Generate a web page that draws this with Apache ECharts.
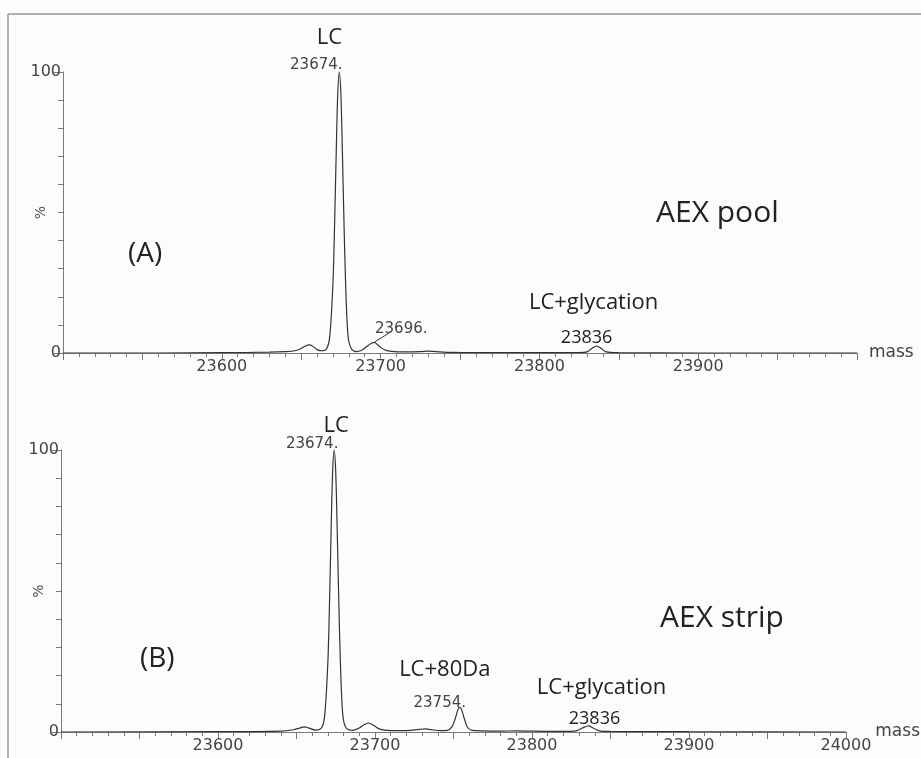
<!DOCTYPE html>
<html>
<head>
<meta charset="utf-8">
<title>AEX pool / AEX strip</title>
<script src="https://cdn.jsdelivr.net/npm/echarts@6/dist/echarts.min.js"></script>
<style>
  html, body { margin: 0; padding: 0; background: #fcfcfc; }
  #myChart { width: 921px; height: 758px; }
</style>
</head>
<body>
<div id="myChart"></div>
<script>
// spectrum (A) AEX pool : [mass, %]
var poolData = [
  [23500, 0], [23560, 0], [23600, 0.1], [23630, 0.3], [23640, 0.5], [23646, 0.8],
  [23650, 1.6], [23653, 2.6], [23655, 2.9], [23657, 2.5], [23660, 1.2], [23663, 0.8],
  [23666, 1.5], [23668, 6], [23670, 25], [23671, 45], [23672, 70], [23673, 92],
  [23674, 100], [23675, 92], [23676, 70], [23677, 45], [23678, 24], [23679, 10],
  [23680, 4], [23682, 1.2], [23685, 0.5], [23688, 1.0], [23691, 2.2], [23694, 3.4],
  [23696, 3.8], [23698, 3.0], [23700, 2.0], [23703, 1.0], [23707, 0.6], [23715, 0.4],
  [23725, 0.5], [23730, 0.7], [23735, 0.5], [23745, 0.2], [23760, 0.1], [23800, 0.1],
  [23825, 0.1], [23830, 0.4], [23833, 1.6], [23836, 2.5], [23839, 1.6], [23842, 0.4],
  [23850, 0.1], [23900, 0], [24000, 0]
];

// spectrum (B) AEX strip : [mass, %]
var stripData = [
  [23500, 0], [23600, 0.1], [23640, 0.3], [23648, 0.8], [23652, 1.4], [23655, 1.8],
  [23658, 1.4], [23662, 0.7], [23666, 1.5], [23668, 6], [23670, 25], [23671, 45],
  [23672, 70], [23673, 92], [23674, 100], [23675, 92], [23676, 70], [23677, 45],
  [23678, 24], [23679, 10], [23680, 4], [23682, 1.2], [23686, 0.6], [23690, 1.4],
  [23693, 2.6], [23696, 3.2], [23699, 2.4], [23703, 1.0], [23710, 0.5], [23720, 0.5],
  [23728, 0.9], [23732, 1.1], [23736, 0.8], [23742, 0.5], [23746, 0.6], [23749, 1.8],
  [23751, 4.5], [23753, 8.2], [23754, 8.7], [23755, 8.2], [23757, 4.5], [23759, 1.6],
  [23762, 0.6], [23768, 0.4], [23780, 0.3], [23790, 0.4], [23800, 0.3], [23820, 0.2],
  [23828, 0.4], [23832, 1.4], [23836, 2.2], [23839, 1.4], [23843, 0.4], [23850, 0.2],
  [23900, 0.1], [24000, 0]
];

var massMin = 23500;
var massMax = 24000;
var yTicks = [0, 100];

var tickFont = 'DejaVu Sans';
var textFont = 'Open Sans';
var lineColor = '#333';
var axisColor = '#7a7a7a';

var myChart = echarts.init(document.getElementById('myChart'));

function xAxisOf(idx, showLast) {
  return {
    type: 'value',
    gridIndex: idx,
    min: massMin,
    max: massMax,
    interval: 50,
    name: 'mass',
    nameLocation: 'end',
    nameGap: 12,
    nameTextStyle: { fontFamily: tickFont, fontSize: 17, color: '#444', verticalAlign: 'middle' },
    axisLine: { lineStyle: { color: axisColor, width: 1 } },
    axisTick: { length: 7, lineStyle: { color: axisColor } },
    minorTick: { show: true, splitNumber: 5, length: 4, lineStyle: { color: axisColor } },
    splitLine: { show: false },
    axisLabel: {
      fontFamily: tickFont, fontSize: 16, color: '#444', margin: 6,
      showMinLabel: true, showMaxLabel: true,
      formatter: function (v) {
        if (v % 100 !== 0 || v === massMin) return '';
        if (v === massMax && !showLast) return '';
        return String(v);
      }
    }
  };
}

function yAxisOf(idx) {
  return {
    type: 'value',
    gridIndex: idx,
    min: 0,
    max: 100,
    interval: 100,
    name: '%',
    nameLocation: 'middle',
    nameRotate: 90,
    nameGap: 15,
    nameMoveOverlap: false,
    nameTextStyle: { fontFamily: tickFont, fontSize: 14, color: '#555' },
    axisLine: { show: true, lineStyle: { color: axisColor, width: 1 } },
    axisTick: { show: true, length: 9, lineStyle: { color: axisColor } },
    minorTick: { show: true, splitNumber: 10, length: 5, lineStyle: { color: axisColor } },
    splitLine: { show: false },
    axisLabel: {
      fontFamily: tickFont, fontSize: 16, color: '#444', margin: 2,
      formatter: function (v) { return yTicks.indexOf(v) >= 0 ? String(v) : ''; }
    }
  };
}

function peakLabel(coord, text, offset, big) {
  return {
    coord: coord,
    symbol: 'circle',
    symbolSize: 0,
    label: {
      show: true,
      position: 'inside',
      offset: offset,
      formatter: text,
      fontFamily: big ? textFont : tickFont,
      fontSize: big ? big : 15,
      color: big ? '#222' : '#444'
    }
  };
}

var option = {
  backgroundColor: '#fcfcfc',
  animation: false,
  grid: [
    { left: 63, right: 64, top: 72, height: 281 },
    { left: 61, right: 65, top: 450, height: 282 }
  ],
  xAxis: [xAxisOf(0, false), xAxisOf(1, true)],
  yAxis: [yAxisOf(0), yAxisOf(1)],
  graphic: [
    { type: 'line', shape: { x1: 8, y1: 14, x2: 921, y2: 14 }, style: { stroke: '#999', lineWidth: 1.5 } },
    { type: 'line', shape: { x1: 8, y1: 14, x2: 8, y2: 758 }, style: { stroke: '#999', lineWidth: 1.5 } },
    { type: 'text', left: 128, top: 240, style: { text: '(A)', font: '28px "Open Sans"', fill: '#222' } },
    { type: 'text', left: 656, top: 198, style: { text: 'AEX pool', font: '30px "Open Sans"', fill: '#222' } },
    { type: 'text', left: 140, top: 645, style: { text: '(B)', font: '28px "Open Sans"', fill: '#222' } },
    { type: 'text', left: 660, top: 603, style: { text: 'AEX strip', font: '30px "Open Sans"', fill: '#222' } }
  ],
  series: [
    {
      name: 'AEX pool',
      type: 'line',
      xAxisIndex: 0,
      yAxisIndex: 0,
      data: poolData,
      smooth: 0.3,
      showSymbol: false,
      lineStyle: { color: lineColor, width: 1.2 },
      markPoint: {
        silent: true,
        data: [
          peakLabel([23674, 100], 'LC', [-10, -34], 22),
          peakLabel([23674, 100], '23674.', [-23, -7]),
          peakLabel([23696, 3.8], '23696.', [27, -13]),
          peakLabel([23836, 2.5], 'LC+glycation', [-3, -43], 22),
          peakLabel([23836, 2.5], '23836', [-10, -8], 18)
        ]
      },
      markLine: {
        silent: true,
        symbol: 'none',
        label: { show: false },
        lineStyle: { color: lineColor, width: 1, type: 'solid' },
        data: [[{ coord: [23696.5, 4] }, { coord: [23705.5, 7.2] }]]
      }
    },
    {
      name: 'AEX strip',
      type: 'line',
      xAxisIndex: 1,
      yAxisIndex: 1,
      data: stripData,
      smooth: 0.3,
      showSymbol: false,
      lineStyle: { color: lineColor, width: 1.2 },
      markPoint: {
        silent: true,
        data: [
          peakLabel([23674, 100], 'LC', [2, -24], 22),
          peakLabel([23674, 100], '23674.', [-22, -6]),
          peakLabel([23754, 8.7], 'LC+80Da', [-15, -38], 22),
          peakLabel([23754, 8.7], '23754.', [-20, -4]),
          peakLabel([23836, 2.2], 'LC+glycation', [13, -38], 22),
          peakLabel([23836, 2.2], '23836', [6, -7], 18)
        ]
      }
    }
  ]
};

myChart.setOption(option);
</script>
</body>
</html>
